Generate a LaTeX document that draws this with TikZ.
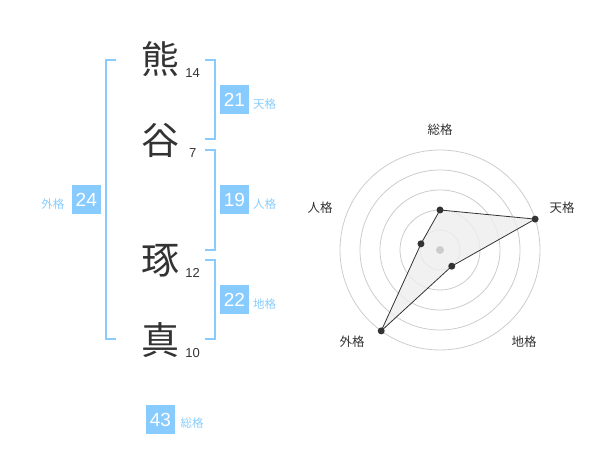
\documentclass[tikz,border=0pt]{standalone}
\usepackage{fontspec}
\setmainfont{Noto Sans CJK JP}
\newfontfamily\numfont{Liberation Sans}
\usetikzlibrary{positioning}
\definecolor{kakublue}{RGB}{136,204,255}
\definecolor{inkgray}{RGB}{51,51,51}
\definecolor{ringgray}{RGB}{204,204,204}
\definecolor{areagray}{RGB}{238,238,238}
\tikzset{
    every node/.style={inner sep=0, outer sep=0},
    kanji/.style={font=\fontsize{38}{38}\selectfont, text=inkgray},
    strokes/.style={font=\numfont\fontsize{13}{13}\selectfont, text=inkgray, anchor=base},
    kakubox/.style={fill=kakublue, text=white, minimum size=29, font=\numfont\fontsize{19}{19}\selectfont},
    kakulabel/.style={text=kakublue, font=\fontsize{11.5}{11.5}\selectfont},
    bracket/.style={draw=kakublue, line width=2},
    ring/.style={draw=ringgray, line width=.8},
    axislabel/.style={text=inkgray, font=\fontsize{12.5}{12.5}\selectfont},
}
\begin{document}
\begin{tikzpicture}[x=1pt, y=-1pt]
    \useasboundingbox (0,0) rectangle (600,470);

    % name, one character per row
    \node [kanji] (k1) at (160,59.5) {熊};
    \node [kanji] (k2) at (160,140) {谷};
    \node [kanji] (k3) at (160,260.5) {琢};
    \node [kanji] (k4) at (160,340.5) {真};
    \node [strokes] (s1) at (192.7,77.3) {14};
    \node [strokes] (s2) at (192.7,157.3) {7};
    \node [strokes] (s3) at (192.7,277.3) {12};
    \node [strokes] (s4) at (192.7,357.3) {10};

    % brackets
    \draw [bracket] (115.7,60) -- (105.5,60) -- (105.5,339.5) -- (115.7,339.5);
    \foreach \top/\bot in {60/139.5, 150/250, 260/339.5}{
        \draw [bracket] (205,\top) -- (214.5,\top) -- (214.5,\bot) -- (205,\bot);
    }

    % scores
    \node [kakubox] (ten) at (234.5,100) {21};
    \node [kakulabel] (tenl) at (264.7,103.8) {天格};
    \node [kakubox] (jin) at (234.5,200) {19};
    \node [kakulabel] (jinl) at (264.7,203.8) {人格};
    \node [kakubox] (chi) at (234.5,300) {22};
    \node [kakulabel] (chil) at (264.7,303.8) {地格};
    \node [kakubox] (gai) at (86.3,200) {24};
    \node [kakulabel] (gail) at (52.8,203.8) {外格};
    \node [kakubox] (sou) at (160.5,419.5) {43};
    \node [kakulabel] (soul) at (192,422.8) {総格};

    % radar
    \begin{scope}[shift={(440,250)}]
    \foreach \r in {20,40,...,100}{
        \draw [ring] (0,0) circle [radius=\r];
    }
    \coordinate (psou) at (-90:40);
    \coordinate (pten) at (-18:100);
    \coordinate (pchi) at (54:20);
    \coordinate (pgai) at (126:100);
    \coordinate (pjin) at (198:20);
    \draw [fill=areagray, fill opacity=.8, draw=inkgray, line width=.8] (psou) -- (pten) -- (pchi) -- (pgai) -- (pjin) -- cycle;
    \fill [ringgray] (0,0) circle [radius=4];
    \foreach \p in {psou,pten,pchi,pgai,pjin}{
        \fill [inkgray] (\p) circle [radius=3.5];
    }
    \node [axislabel] (asou) at (0,-120) {総格};
    \node [axislabel] (aten) at (122,-42) {天格};
    \node [axislabel] (achi) at (84,92) {地格};
    \node [axislabel] (agai) at (-88,92) {外格};
    \node [axislabel] (ajin) at (-120,-42) {人格};
    \end{scope}
\end{tikzpicture}
\end{document}
